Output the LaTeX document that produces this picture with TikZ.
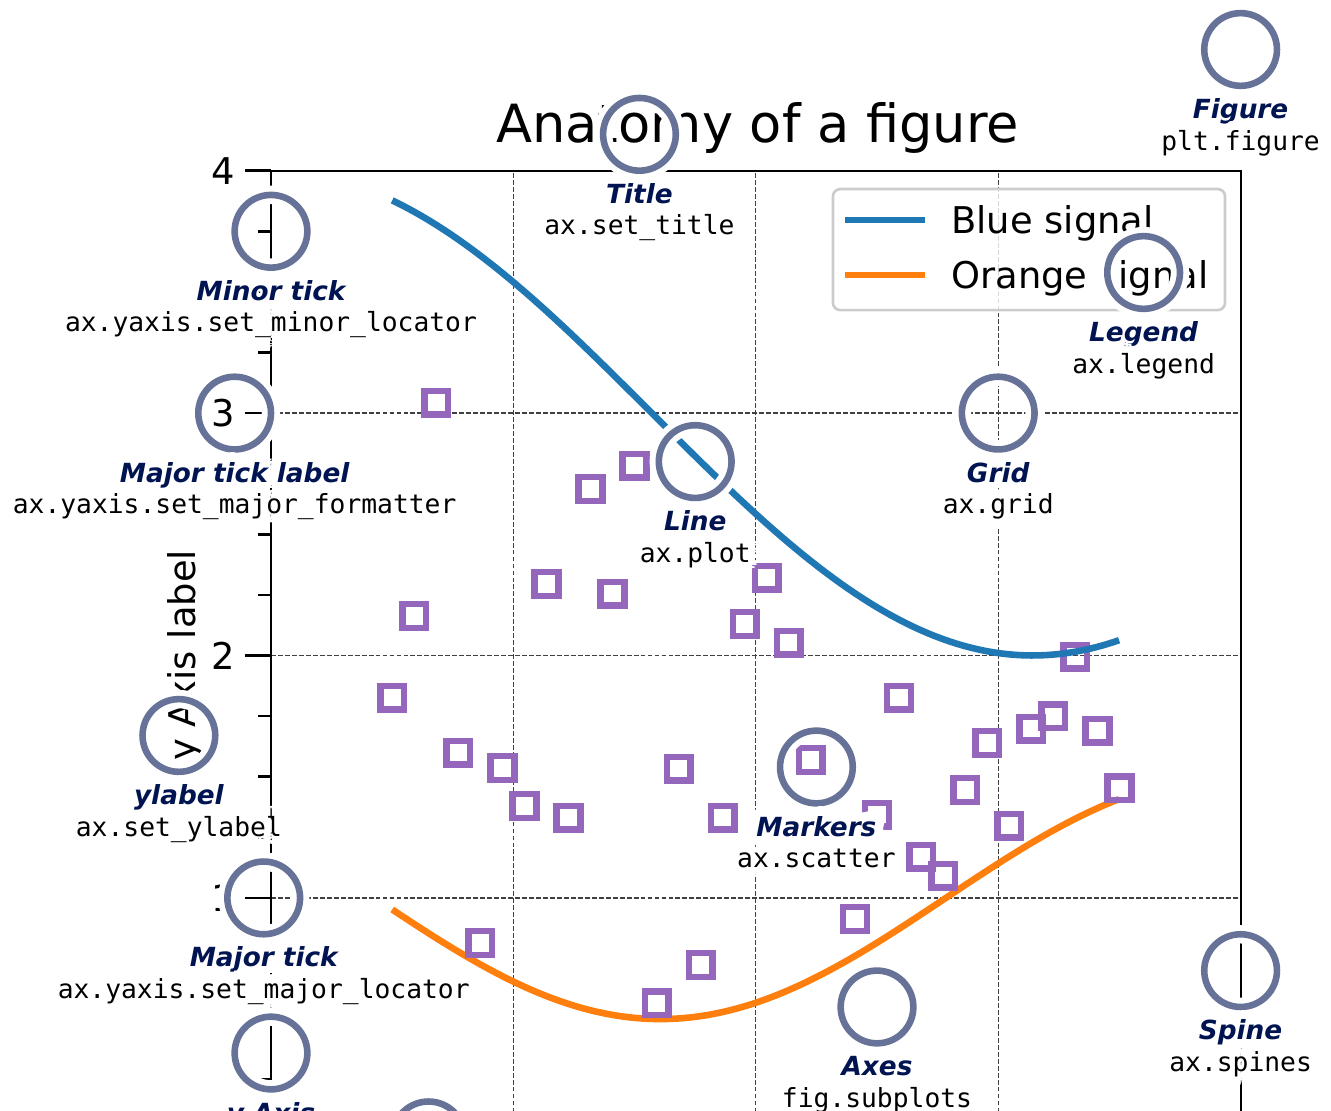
\documentclass[tikz,border=0pt]{standalone}
\usepackage{fontspec}
\setmainfont{DejaVu Sans}[BoldItalicFont={DejaVu Sans Bold Oblique}]
\setmonofont{DejaVu Sans Mono}
\usepackage{xcolor}
\usepackage{tikz}

\definecolor{royal}{RGB}{0,20,82}
\definecolor{ringblue}{RGB}{102,114,151}
\definecolor{cblue}{HTML}{1F77B4}
\definecolor{corange}{HTML}{FF7F0E}
\definecolor{cpurple}{HTML}{9467BD}
\definecolor{gridgray}{gray}{0.25}

\newcommand{\halotext}[4]{%
  \foreach \hang in {0,22.5,...,337.5}
    \node[#1, text=white] at ([shift={(\hang:3.5pt)}]#3) {#4};
  \node[#1] (#2) at (#3) {#4};
}

\begin{document}
\begin{tikzpicture}[x=92.11pt, y=92.11pt,
    spine/.style={line width=0.8pt},
    gridline/.style={gridgray, line width=0.5pt, dash pattern=on 1.85pt off 0.8pt},
    majortick/.style={line width=1pt},
    minortick/.style={line width=1pt},
    ticklabel/.style={font=\fontsize{14}{17}\selectfont, anchor=east, inner sep=0pt},
    signal/.style={line width=2.5pt},
    marker/.style={rectangle, draw=cpurple, line width=2.5pt, minimum size=9pt, inner sep=0pt},
    legendframe/.style={draw=black!20, fill=white, fill opacity=0.8, rounded corners=2.8pt,
      line width=1pt, minimum width=149pt, minimum height=46pt, inner sep=0pt},
    legendtext/.style={font=\fontsize{14}{17}\selectfont, anchor=base west, inner sep=0pt},
    ring/.style={circle, draw=ringblue, line width=2.5pt, minimum size=27.63pt, inner sep=0pt,
      preaction={draw=white, line width=7pt}},
    annlabel/.style={font=\fontsize{10}{12}\selectfont\bfseries\itshape, text=royal,
      anchor=north, inner sep=0pt, text height=7.6pt, text depth=2.4pt},
    anncode/.style={font=\ttfamily\fontsize{10}{12}\selectfont, text=black,
      anchor=north, inner sep=0pt, text height=7.6pt, text depth=2.4pt}]

\clip (-1.118,0.1209) rectangle (4.3729,4.7042);
\fill[white] (-1.118,0.1209) rectangle (4.3729,4.7042);

% grid
\foreach \g in {1,2,3} {
  \draw[gridline] (\g,0) -- (\g,4);
  \draw[gridline] (0,\g) -- (4,\g);
}

% y ticks
\foreach \t in {1,...,4} {
  \draw[majortick] (0,\t) -- ++(-10pt,0);
  \node[ticklabel] (tick\t) at ([xshift=-13.5pt]0,\t) {\t};
}
\foreach \t in {0.25,0.5,0.75,1.25,1.5,1.75,2.25,2.5,2.75,3.25,3.5,3.75}
  \draw[minortick] (0,\t) -- ++(-5pt,0);

\draw[spine] (0,0) rectangle (4,4);

\node[font=\fontsize{20}{24}\selectfont, anchor=base] (title) at (2.008,4.118) {Anatomy of a figure};
\node[font=\fontsize{14}{17}\selectfont, rotate=90, anchor=base] (ylab) at (-0.3135,2) {y Axis label};

% signals
\draw[signal, corange] plot[domain=0.5:3.5, samples=100] (\x, {1+cos(deg(1+\x/0.75))/2});
\foreach \i/\v in {0/1.825, 1/2.163, 2/3.042, 3/1.598, 4/0.814, 5/1.536, 6/1.379, 7/2.295,
    8/1.330, 9/2.687, 10/2.254, 11/2.782, 12/0.566, 13/1.532, 14/0.723, 15/1.330, 16/2.130,
    17/2.320, 18/2.052, 19/1.569, 21/0.913, 22/1.343, 23/1.825, 24/1.170, 25/1.091,
    26/1.445, 27/1.639, 28/1.297, 29/1.697, 30/1.750, 31/1.994, 32/1.689, 33/1.453}
  \node[marker] (m\i) at ({0.5+\i/11},\v) {};
\draw[signal, cblue] plot[domain=0.5:3.5, samples=100] (\x, {3+cos(deg(\x))});

% legend
\node[legendframe] (legend) at (3.127,3.6745) {};
\draw[signal, cblue] (2.368,3.797) -- (2.698,3.797);
\draw[signal, corange] (2.368,3.570) -- (2.698,3.570);
\node[legendtext] (lblue) at (2.805,3.742) {Blue signal};
\node[legendtext] (lorange) at (2.805,3.515) {Orange signal};

% annotations
\foreach \nm/\cx/\cy in {figure/4/4.5, title/1.52/4.15, minortick/0/3.75, majorlabel/-0.15/3,
    line/1.75/2.8, grid/3/3, legend/3.6/3.58, ylabel/-0.38/1.67, markers/2.25/1.54,
    majortick/-0.03/1, axes/2.5/0.55, spine/4/0.7, yaxis/0/0.36, xaxis/0.65/0.01}
  \node[ring] (c\nm) at (\cx,\cy) {};

\foreach \nm/\cx/\cy/\lab/\code in {
    figure/4/4.5/Figure/plt.figure,
    title/1.52/4.15/Title/ax.set\_title,
    minortick/0/3.75/Minor tick/ax.yaxis.set\_minor\_locator,
    majorlabel/-0.15/3/Major tick label/ax.yaxis.set\_major\_formatter,
    line/1.75/2.8/Line/ax.plot,
    grid/3/3/Grid/ax.grid,
    legend/3.6/3.58/Legend/ax.legend,
    ylabel/-0.38/1.67/ylabel/ax.set\_ylabel,
    markers/2.25/1.54/Markers/ax.scatter,
    majortick/-0.03/1/Major tick/ax.yaxis.set\_major\_locator,
    axes/2.5/0.55/Axes/fig.subplots,
    spine/4/0.7/Spine/ax.spines} {
  \halotext{annlabel}{l\nm}{\cx,\cy-0.2}{\lab}
  \halotext{anncode}{k\nm}{\cx,\cy-0.33}{\code}
}
\halotext{annlabel}{lyaxis}{0,0.16}{y Axis}

\end{tikzpicture}
\end{document}
